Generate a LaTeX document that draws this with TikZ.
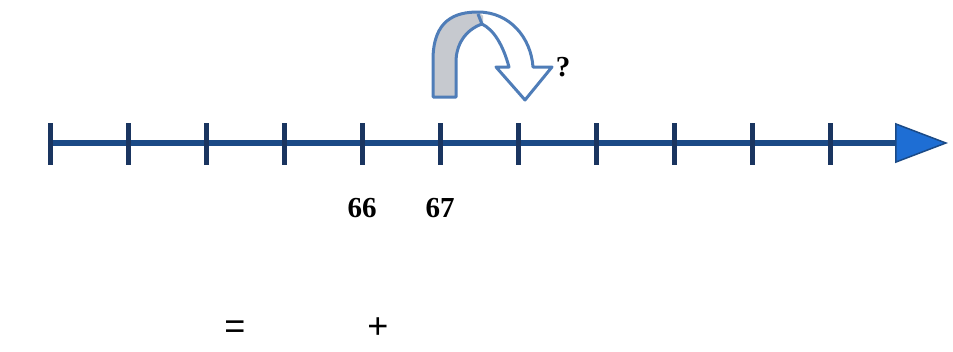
\documentclass[tikz,border=0pt]{standalone}
\usepackage{fontspec}
\setmainfont{Liberation Serif}
\newfontfamily\nlsans{Liberation Sans}
\usetikzlibrary{arrows.meta}
\definecolor{nlDark}{HTML}{1B4A86}
\definecolor{nlTick}{HTML}{1A3560}
\definecolor{nlHead}{HTML}{1E6ED4}
\definecolor{nlJump}{HTML}{4F7DB8}
\definecolor{nlGray}{HTML}{C6C9CF}
\tikzset{
  nl axis/.style={draw=nlDark, line width=6pt},
  nl tick/.style={draw=nlTick, line width=5pt},
  nl jump/.style={draw=nlJump, line width=3pt, line join=round},
  nl number/.style={font=\fontsize{29}{32}\selectfont\bfseries, text=black, inner sep=0pt},
  nl sign/.style={font=\nlsans\fontsize{36}{40}\selectfont, text=black, inner sep=0pt},
}

\begin{document}
\begin{tikzpicture}[x=1pt, y=-1pt]
  \useasboundingbox (0,0) rectangle (953,351);
  % ----- number line -----
  \coordinate (start) at (50,143);
  \coordinate (end) at (948,143);
  \draw[nl axis, -{Triangle[length=53pt, width=40pt, line width=1.5pt, fill=nlHead]}] (start) -- (end);
  \foreach \i in {0,...,10} {
    \coordinate (t\i) at (50+78*\i,143);
    \draw[nl tick] ([yshift=20pt]t\i) -- ([yshift=-22pt]t\i);
  }
  % ----- labels under the ticks -----
  \node[nl number] (n66) at ([yshift=-65pt]t4) {66};
  \node[nl number] (n67) at ([yshift=-65pt]t5) {67};
  % ----- jump over the line -----
  \path[fill=white] (433,97) -- (433,60) .. controls (433,20) and (455,12) .. (478,12)
    .. controls (510,12) and (531,38) .. (533,67) -- (552,67) -- (525,100) -- (496,67)
    -- (509,67) .. controls (503,45) and (494,30) .. (482,24)
    .. controls (465,30) and (456,45) .. (456,62) -- (456,97) -- cycle;
  \begin{scope}
    \clip (420,0) rectangle (483,110);
    \fill[nlGray] (433,97) -- (433,60) .. controls (433,20) and (455,12) .. (478,12)
      -- (486,18) -- (482,24) .. controls (465,30) and (456,45) .. (456,62) -- (456,97) -- cycle;
  \end{scope}
  \draw[nl jump] (433,97) -- (433,60) .. controls (433,20) and (455,12) .. (478,12)
    .. controls (510,12) and (531,38) .. (533,67) -- (552,67) -- (525,100) -- (496,67)
    -- (509,67) .. controls (503,45) and (494,30) .. (482,24)
    .. controls (465,30) and (456,45) .. (456,62) -- (456,97) -- cycle;
  \draw[nl jump] (478,14) -- (482,24);
  \node[nl number] (ask) at (563,67) {?};
  % ----- sum to fill in -----
  \node[nl sign] (eq) at (235,330) {=};
  \node[nl sign] (plus) at (378,328) {+};
\end{tikzpicture}
\end{document}
